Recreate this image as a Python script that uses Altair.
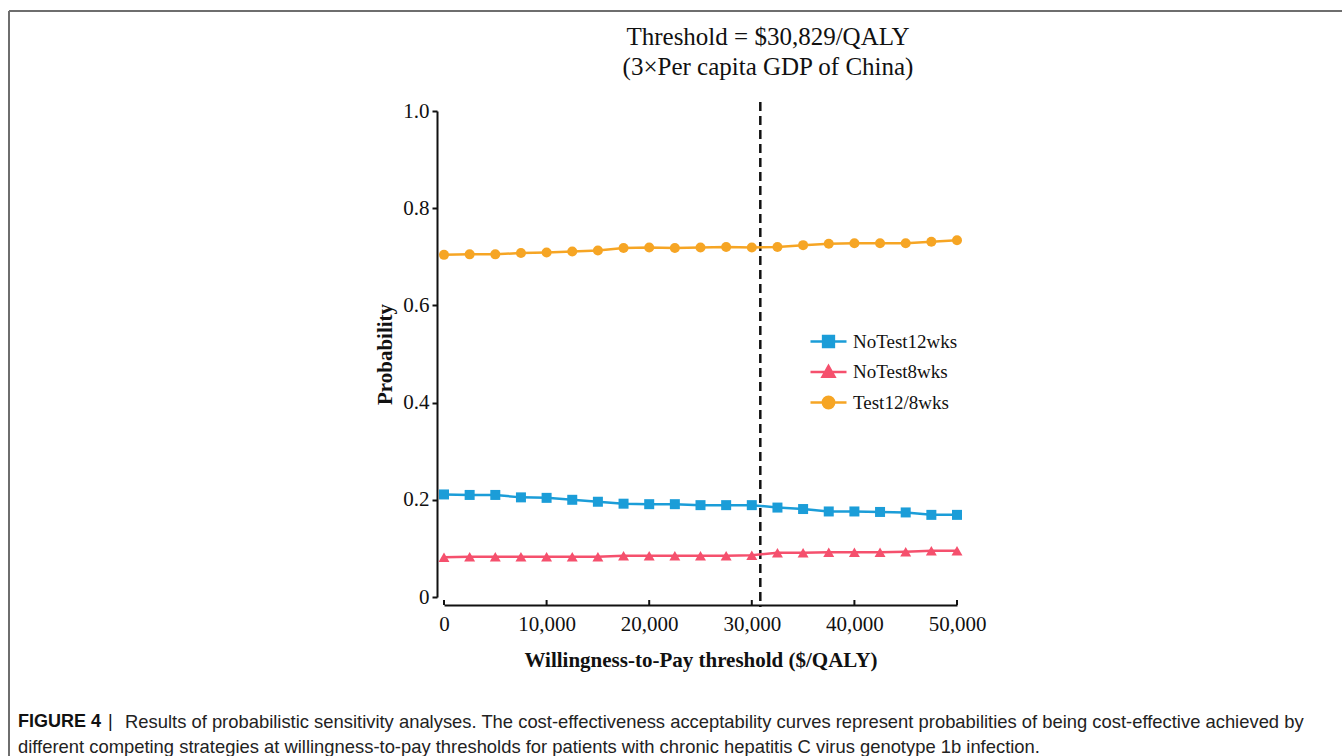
import altair as alt
import pandas as pd

# Willingness-to-pay thresholds ($/QALY)
wtp = [0, 2500, 5000, 7500, 10000, 12500, 15000, 17500, 20000, 22500, 25000,
       27500, 30000, 32500, 35000, 37500, 40000, 42500, 45000, 47500, 50000]

# Probability of being cost-effective for each strategy
no_test_12wks = [0.211, 0.210, 0.210, 0.205, 0.204, 0.200, 0.196, 0.192, 0.191, 0.191, 0.189,
                 0.189, 0.189, 0.184, 0.181, 0.176, 0.176, 0.175, 0.174, 0.169, 0.169]
no_test_8wks = [0.082, 0.083, 0.083, 0.083, 0.083, 0.083, 0.083, 0.085, 0.085, 0.085, 0.085,
                0.085, 0.086, 0.091, 0.091, 0.092, 0.092, 0.092, 0.093, 0.095, 0.095]
test_12_8wks = [0.704, 0.705, 0.705, 0.708, 0.709, 0.711, 0.713, 0.718, 0.719, 0.718, 0.719,
                0.720, 0.719, 0.720, 0.724, 0.727, 0.728, 0.728, 0.728, 0.731, 0.734]

strategies = ["NoTest12wks", "NoTest8wks", "Test12/8wks"]
colors = ["#1B9DD8", "#F5506D", "#F6A524"]
threshold = [30829]
x_ticks = [0, 10000, 20000, 30000, 40000, 50000]
y_ticks = [0, 0.2, 0.4, 0.6, 0.8, 1.0]

SERIF = "Liberation Serif"

rows = []
for name, vals in zip(strategies, [no_test_12wks, no_test_8wks, test_12_8wks]):
    for w, p in zip(wtp, vals):
        rows.append({"wtp": w, "prob": p, "strategy": name})
df = pd.DataFrame(rows)

W, H = 513, 486

x_enc = alt.X(
    "wtp:Q",
    scale=alt.Scale(domain=[0, 50000], nice=False, zero=False),
    axis=alt.Axis(
        values=x_ticks, labelExpr="format(datum.value, ',')", ticks=False, tickSize=0,
        grid=False, offset=8, domainColor="#111", domainWidth=2,
        labelFlush=False, labelOverlap=False,
        labelFont=SERIF, labelFontSize=21, labelColor="#111", labelPadding=8,
        title="Willingness-to-Pay threshold ($/QALY)", titleFont=SERIF,
        titleFontSize=21, titleFontWeight="bold", titleColor="#111", titlePadding=15,
    ),
)
y_enc = alt.Y(
    "prob:Q",
    scale=alt.Scale(domain=[0, 1], nice=False),
    axis=alt.Axis(
        values=y_ticks, labelExpr="datum.value == 0 ? '0' : format(datum.value, '.1f')",
        grid=False, offset=7, tickSize=5, tickWidth=2, tickColor="#111",
        domainColor="#111", domainWidth=2, labelFlush=False,
        labelFont=SERIF, labelFontSize=21, labelColor="#111", labelPadding=3,
        title="Probability", titleFont=SERIF, titleFontSize=21, titleFontWeight="bold",
        titleColor="#111", titleAngle=-90, titleX=-52, titleY=H / 2,
        titleAlign="center", titleBaseline="middle",
    ),
)

base = alt.Chart(df)

lines = base.mark_line(strokeWidth=2.5).encode(
    x=x_enc, y=y_enc,
    color=alt.Color("strategy:N", scale=alt.Scale(domain=strategies, range=colors), legend=None),
)

pts_sq = base.transform_filter(alt.datum.strategy == strategies[0]).mark_square(
    size=100, opacity=1, color=colors[0]).encode(x="wtp:Q", y="prob:Q")
pts_tri = base.transform_filter(alt.datum.strategy == strategies[1]).mark_point(
    shape="triangle-up", filled=True, size=120, opacity=1, color=colors[1]).encode(x="wtp:Q", y="prob:Q")
pts_circ = base.transform_filter(alt.datum.strategy == strategies[2]).mark_circle(
    size=100, opacity=1, color=colors[2]).encode(x="wtp:Q", y="prob:Q")

# small inward ticks on the x axis line
xt = alt.Chart(pd.DataFrame({"wtp": x_ticks})).mark_rule(color="#111", strokeWidth=2).encode(
    x="wtp:Q", y=alt.value(H + 8 - 5), y2=alt.value(H + 8))

# threshold line
thr = alt.Chart(pd.DataFrame({"wtp": threshold})).mark_rule(
    color="#111", strokeWidth=2.5, strokeDash=[9, 5]).encode(
    x="wtp:Q", y=alt.value(-9), y2=alt.value(H + 10))

# legend: line segment with a marker in the middle
leg_shapes = [
    "M-3,0H3M-0.9,-0.9H0.9V0.9H-0.9Z",
    "M-3,0H3M-1,0.8L0,-1L1,0.8Z",
    "M-3,0H3M-0.95,0A0.95,0.95 0 1,0 0.95,0A0.95,0.95 0 1,0 -0.95,0Z",
]
leg_opts = dict(
    title=None, orient="none", legendX=375, legendY=221,
    symbolSize=144, symbolStrokeWidth=2.5, labelFont=SERIF, labelFontSize=19,
    labelColor="#111", labelOffset=15, rowPadding=8.5,
)
legend_layer = alt.Chart(df).transform_filter("false").mark_point(
    filled=True, strokeWidth=2.5, opacity=1).encode(
    x="wtp:Q", y="prob:Q",
    fill=alt.Fill("strategy:N", scale=alt.Scale(domain=strategies, range=colors), legend=alt.Legend(**leg_opts)),
    stroke=alt.Stroke("strategy:N", scale=alt.Scale(domain=strategies, range=colors), legend=alt.Legend(**leg_opts)),
    shape=alt.Shape("strategy:N", scale=alt.Scale(domain=strategies, range=leg_shapes), legend=alt.Legend(**leg_opts)),
)

one = pd.DataFrame({"k": [0]})

# page frame
frame_top = alt.Chart(one).mark_rule(color="#6e6e6e", strokeWidth=2).encode(
    x=alt.value(-435), x2=alt.value(1342 - 444), y=alt.value(-100), y2=alt.value(-100))
frame_left = alt.Chart(one).mark_rule(color="#6e6e6e", strokeWidth=2).encode(
    x=alt.value(-435), x2=alt.value(-435), y=alt.value(-100), y2=alt.value(756 - 111))

title1 = alt.Chart(one).mark_text(font=SERIF, fontSize=25, color="#111", baseline="middle").encode(
    x=alt.value(324), y=alt.value(-74), text=alt.value("Threshold = $30,829/QALY"))
title2 = alt.Chart(one).mark_text(font=SERIF, fontSize=25, color="#111", baseline="middle").encode(
    x=alt.value(324), y=alt.value(-44), text=alt.value("(3×Per capita GDP of China)"))

CAP = "Liberation Sans"
cap_bold = alt.Chart(one).mark_text(font=CAP, fontWeight="bold", fontSize=18,
                                    color="#111", align="left").encode(
    x=alt.value(-426), y=alt.value(611), text=alt.value("FIGURE 4"))
cap_bar = alt.Chart(one).mark_text(font=CAP, fontSize=18, color="#111", align="left").encode(
    x=alt.value(-336), y=alt.value(611), text=alt.value("|"))
cap_1 = alt.Chart(one).mark_text(font=CAP, fontSize=18.4, color="#222", align="left").encode(
    x=alt.value(-319), y=alt.value(611),
    text=alt.value("Results of probabilistic sensitivity analyses. The cost-effectiveness acceptability "
                   "curves represent probabilities of being cost-effective achieved by"))
cap_2 = alt.Chart(one).mark_text(font=CAP, fontSize=18.4, color="#222", align="left").encode(
    x=alt.value(-426), y=alt.value(636),
    text=alt.value("different competing strategies at willingness-to-pay thresholds for patients with "
                   "chronic hepatitis C virus genotype 1b infection."))

chart = alt.layer(
    frame_top, frame_left, thr, lines, pts_sq, pts_tri, pts_circ, xt, legend_layer,
    title1, title2, cap_bold, cap_bar, cap_1, cap_2,
).resolve_scale(
    color="independent", fill="independent", stroke="independent", shape="independent"
).properties(
    width=W, height=H,
    autosize=alt.AutoSizeParams(type="none"),
    padding={"left": 444, "top": 111, "right": 1342 - 444 - W, "bottom": 756 - 111 - H},
    background="white",
).configure_view(stroke=None)

chart.save("out.html", embed_options={"renderer": "svg", "actions": False})
